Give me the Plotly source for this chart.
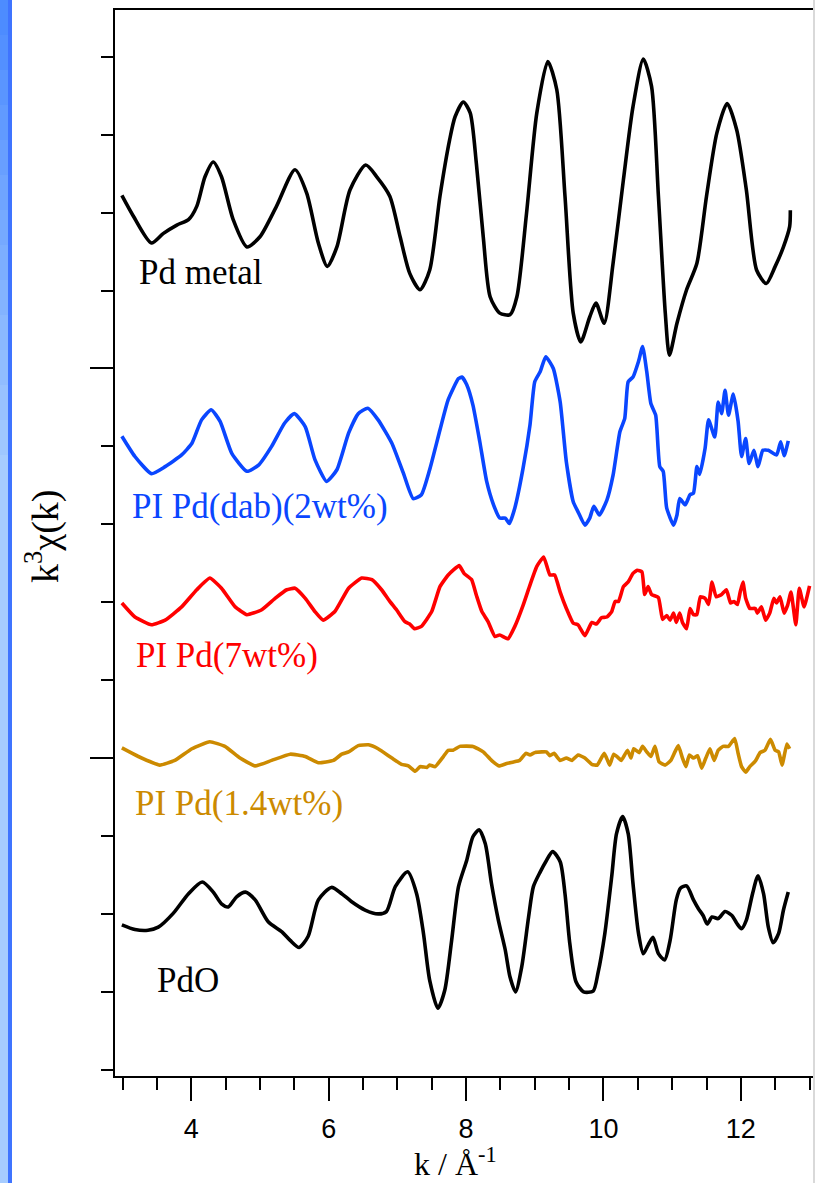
import plotly.graph_objects as go

# ---------------- data (k in 1/Angstrom, stacked k^3 chi(k) in plot units) ----------------
k_pd = [2.99,3.16,3.42,3.59,3.79,3.96,4.08,4.20,4.32,4.44,4.61,4.81,5.00,5.24,5.51,5.68,5.85,5.98,6.12,6.31,
        6.54,6.70,6.89,7.04,7.18,7.33,7.47,7.62,7.76,7.84,7.96,8.06,8.15,8.25,8.35,8.49,8.64,8.74,8.88,9.03,
        9.19,9.32,9.44,9.56,9.67,9.80,9.89,10.01,10.14,10.29,10.43,10.58,10.70,10.80,10.90,10.96,11.07,11.21,11.36,11.50,
        11.65,11.80,11.94,12.08,12.23,12.37,12.50,12.62,12.71,12.72]
y_pd = [7.22,6.95,6.61,6.73,6.84,6.91,7.08,7.46,7.65,7.46,6.91,6.56,6.69,7.08,7.55,7.25,6.61,6.31,6.56,7.29,
        7.61,7.46,7.21,6.69,6.22,6.01,6.26,7.21,7.93,8.23,8.42,8.28,7.63,6.69,5.92,5.71,5.69,5.92,6.99,8.28,
        8.94,8.58,7.21,5.71,5.34,5.66,5.84,5.58,6.35,7.42,8.36,8.97,8.62,7.21,5.71,5.17,5.58,6.01,6.35,7.21,
        8.02,8.40,8.06,7.29,6.26,6.09,6.31,6.56,6.82,7.03]

k_dab = [2.99,3.18,3.42,3.62,3.86,4.01,4.15,4.29,4.42,4.59,4.81,4.98,5.17,5.36,5.50,5.66,5.80,5.97,6.12,
         6.29,6.43,6.57,6.72,6.92,7.09,7.23,7.35,7.47,7.62,7.74,7.89,7.94,8.01,8.10,8.20,8.30,8.40,8.49,8.57,
         8.63,8.71,8.83,8.93,9.00,9.08,9.16,9.27,9.37,9.46,9.56,9.63,9.73,9.80,9.86,9.94,10.05,10.14,10.24,10.31,
         10.36,10.43,10.51,10.57,10.63,10.69,10.76,10.82,10.87,10.92,11.02,11.07,11.11,11.19,11.26,11.31,11.36,11.40,11.48,11.53,
         11.62,11.67,11.72,11.77,11.82,11.89,11.96,12.01,12.07,12.12,12.19,12.25,12.32,12.40,12.52,12.58,12.63,12.69]
y_dab = [4.13,3.87,3.65,3.74,3.89,4.04,4.34,4.47,4.32,3.91,3.68,3.76,4.00,4.30,4.42,4.25,3.83,3.55,3.70,
         4.17,4.42,4.49,4.34,4.04,3.65,3.33,3.38,3.70,4.21,4.60,4.87,4.89,4.79,4.53,4.06,3.55,3.25,3.08,3.08,
         3.01,3.21,3.72,4.27,4.83,4.96,5.15,5.00,4.57,3.80,3.29,3.16,2.99,3.08,3.23,3.12,3.31,3.63,4.19,4.36,
         4.83,4.89,5.09,5.28,4.96,4.55,4.40,3.74,3.68,3.21,2.99,3.12,3.33,3.25,3.38,3.40,3.74,3.64,3.98,4.34,
         4.12,4.57,4.42,4.72,4.40,4.67,4.32,3.87,4.10,3.78,3.95,3.74,3.95,3.95,3.89,4.06,3.88,4.07]

k_7 = [2.99,3.18,3.42,3.62,3.86,4.08,4.27,4.44,4.64,4.81,5.02,5.22,5.39,5.51,5.66,5.80,5.92,6.09,6.29,6.48,
       6.63,6.77,6.89,6.99,7.11,7.18,7.25,7.35,7.50,7.62,7.74,7.90,7.97,8.08,8.15,8.23,8.32,8.42,8.49,8.61,
       8.71,8.83,8.93,9.03,9.13,9.22,9.29,9.37,9.46,9.56,9.63,9.73,9.83,9.90,9.97,10.05,10.12,10.17,10.22,10.29,
       10.36,10.43,10.49,10.56,10.60,10.65,10.70,10.80,10.86,10.92,10.97,11.02,11.06,11.11,11.15,11.21,11.26,11.31,11.36,11.41,
       11.48,11.53,11.58,11.64,11.72,11.79,11.85,11.90,11.95,11.99,12.03,12.07,12.13,12.21,12.24,12.30,12.36,12.42,12.48,12.52,
       12.57,12.63,12.68,12.73,12.80,12.85,12.92,13.00]
y_7 = [1.99,1.81,1.71,1.77,1.94,2.16,2.31,2.18,1.94,1.84,1.90,2.05,2.16,2.18,2.05,1.88,1.77,1.88,2.18,2.31,
       2.29,2.16,2.01,1.90,1.75,1.72,1.66,1.69,1.88,2.20,2.35,2.47,2.37,2.29,2.09,1.88,1.75,1.56,1.58,1.53,
       1.69,1.96,2.22,2.46,2.58,2.35,2.35,2.13,1.92,1.73,1.71,1.57,1.74,1.72,1.80,1.81,1.88,2.01,2.01,2.20,
       2.26,2.37,2.41,2.39,2.10,2.20,2.10,2.06,1.78,1.83,1.77,1.86,1.74,1.86,1.74,1.66,1.92,1.84,1.84,2.07,
       2.05,1.97,2.26,2.07,2.10,2.16,1.99,2.01,1.97,2.13,2.26,2.05,1.92,1.92,1.86,1.94,1.77,1.86,2.05,1.99,
       2.07,1.86,1.96,2.13,1.71,2.18,1.94,2.21]

k_14 = [2.99,3.23,3.54,3.76,4.01,4.27,4.49,4.71,4.93,5.17,5.44,5.66,5.85,6.07,6.19,6.29,6.43,6.58,6.72,6.92,
        7.06,7.16,7.26,7.33,7.43,7.47,7.55,7.67,7.74,7.81,7.91,8.10,8.25,8.37,8.48,8.59,8.69,8.78,8.87,8.93,
        9.00,9.10,9.17,9.22,9.28,9.37,9.46,9.54,9.63,9.73,9.83,9.91,10.01,10.06,10.09,10.15,10.22,10.26,10.35,10.40,
        10.44,10.52,10.57,10.63,10.69,10.75,10.81,10.90,10.98,11.04,11.09,11.15,11.20,11.25,11.31,11.37,11.43,11.49,11.55,11.61,
        11.67,11.74,11.82,11.91,11.96,12.01,12.07,12.13,12.21,12.28,12.35,12.43,12.50,12.55,12.60,12.67,12.71]
y_14 = [0.13,0.02,-0.09,-0.03,0.12,0.21,0.15,0.00,-0.10,-0.03,0.05,0.02,-0.06,-0.03,0.05,0.08,0.16,0.17,0.12,0.00,
        -0.08,-0.10,-0.17,-0.11,-0.12,-0.09,-0.11,0.02,0.10,0.10,0.15,0.15,0.08,-0.03,-0.10,-0.07,-0.05,-0.03,0.06,0.04,
        0.07,0.08,0.08,0.03,0.06,-0.03,0.00,-0.03,0.04,0.00,-0.08,-0.09,0.06,-0.03,-0.09,0.05,0.00,-0.03,0.10,0.00,
        0.12,0.07,0.15,0.08,0.02,0.15,-0.05,-0.09,-0.03,0.08,0.16,0.00,-0.11,0.04,0.00,0.03,-0.13,0.00,0.12,-0.03,
        0.10,0.15,0.15,0.25,0.06,-0.11,-0.18,-0.11,-0.04,0.07,0.10,0.24,0.10,0.08,-0.09,0.18,0.12]

k_pdo = [2.99,3.18,3.37,3.52,3.74,3.96,4.16,4.32,4.44,4.54,4.66,4.79,4.93,5.12,5.32,5.44,5.57,5.70,5.85,6.04,
         6.19,6.33,6.53,6.72,6.84,6.97,7.15,7.28,7.38,7.47,7.59,7.69,7.79,7.89,8.01,8.10,8.19,8.28,8.37,8.47,
         8.57,8.64,8.72,8.81,8.91,8.98,9.08,9.16,9.26,9.37,9.44,9.51,9.60,9.71,9.85,9.92,10.02,10.12,10.19,10.28,
         10.36,10.43,10.51,10.58,10.65,10.72,10.80,10.89,10.97,11.06,11.12,11.21,11.31,11.38,11.45,11.51,11.58,11.67,11.77,11.87,
         11.94,12.01,12.08,12.17,12.25,12.33,12.40,12.47,12.55,12.62,12.69]
y_pdo = [-2.14,-2.20,-2.21,-2.17,-1.99,-1.74,-1.59,-1.72,-1.87,-1.91,-1.78,-1.72,-1.82,-2.10,-2.23,-2.34,-2.43,-2.29,-1.82,-1.66,
         -1.74,-1.84,-1.95,-2.00,-1.97,-1.65,-1.46,-1.74,-2.25,-2.85,-3.21,-2.98,-2.34,-1.65,-1.31,-1.01,-0.92,-1.10,-1.61,-2.08,
         -2.46,-2.81,-3.00,-2.68,-2.04,-1.65,-1.46,-1.33,-1.20,-1.33,-1.74,-2.38,-2.87,-3.00,-2.99,-2.76,-2.25,-1.52,-0.97,-0.75,
         -0.97,-1.61,-2.25,-2.51,-2.40,-2.30,-2.51,-2.59,-2.34,-1.82,-1.67,-1.64,-1.82,-1.93,-2.02,-2.13,-2.04,-2.06,-1.97,-2.02,
         -2.12,-2.19,-2.08,-1.74,-1.51,-1.74,-2.17,-2.37,-2.25,-1.95,-1.72]

names = ["Pd metal", "PI Pd(dab)(2wt%)", "PI Pd(7wt%)", "PI Pd(1.4wt%)", "PdO"]
colors = ["#000000", "#0a46ff", "#ff0000", "#cc8a00", "#000000"]
label_k = [3.21, 3.11, 3.16, 3.15, 3.47]
label_y = [6.23, 3.23, 1.32, -0.58, -2.85]
x_ticks = [4, 6, 8, 10, 12]
x_range = [2.89, 13.05]
y_range = [-4.08, 9.60]

series = [(k_pd, y_pd, 0.7), (k_dab, y_dab, 0.5), (k_7, y_7, 0.4), (k_14, y_14, 0.4), (k_pdo, y_pdo, 0.7)]

# ---------------- figure ----------------
W, H = 815, 1183
ML, MR, MT, MB = 115, 2, 10, 107
pw, ph = W - ML - MR, H - MT - MB

fig = go.Figure()
for (kx, ky, sm), nm, c in zip(series, names, colors):
    fig.add_trace(go.Scatter(x=kx, y=ky, mode="lines", name=nm,
                             line=dict(color=c, width=3.6, shape="spline", smoothing=sm),
                             showlegend=False, hoverinfo="skip"))

serif = "Liberation Serif, Times New Roman, serif"
for nm, c, lk, ly in zip(names, colors, label_k, label_y):
    fig.add_annotation(x=lk, y=ly, xref="x", yref="y", text=nm, showarrow=False,
                       xanchor="left", yanchor="middle",
                       font=dict(family=serif, size=35, color=c))

def px_x(p):
    return (p - ML) / pw

def px_y(p):
    return (H - MB - p) / ph

# axis titles
fig.add_annotation(x=px_x(42), y=px_y(537), xref="paper", yref="paper",
                   text="k<sup>3</sup>χ(k)", textangle=-90, showarrow=False,
                   xanchor="center", yanchor="middle",
                   font=dict(family=serif, size=38, color="black"))
fig.add_annotation(x=px_x(455), y=px_y(1162), xref="paper", yref="paper",
                   text="k / Å<sup>-1</sup>", showarrow=False,
                   xanchor="center", yanchor="middle",
                   font=dict(family=serif, size=32, color="black"))

# decorative left window bar and right edge
shapes = []
n = 14
for i in range(n):
    t = i / (n - 1)
    r = int(0x4d + (0xa6 - 0x4d) * t)
    g = int(0x8c + (0xcc - 0x8c) * t)
    y0p = i * 35
    y1p = (i + 1) * 35 if i < n - 1 else H
    shapes.append(dict(type="rect", xref="paper", yref="paper",
                       x0=px_x(0), x1=px_x(8), y0=px_y(y1p), y1=px_y(y0p),
                       fillcolor=f"rgb({r},{g},255)", line=dict(width=0), layer="below"))
shapes.append(dict(type="rect", xref="paper", yref="paper",
                   x0=px_x(8), x1=px_x(12), y0=px_y(H), y1=px_y(0),
                   fillcolor="#3f74ff", line=dict(width=0), layer="below"))
shapes.append(dict(type="line", xref="paper", yref="paper",
                   x0=px_x(814), x1=px_x(814), y0=px_y(H), y1=px_y(0),
                   line=dict(color="#cccccc", width=1.5)))
fig.update_layout(shapes=shapes)

fig.update_layout(
    width=W, height=H,
    margin=dict(l=ML, r=MR, t=MT, b=MB, pad=0),
    paper_bgcolor="white", plot_bgcolor="white",
    xaxis=dict(range=x_range, showgrid=False, zeroline=False,
               showline=True, linecolor="black", linewidth=2, mirror=True,
               ticks="outside", ticklen=23, tickwidth=2, tickcolor="black",
               tickmode="array", tickvals=x_ticks, ticktext=[str(v) for v in x_ticks],
               ticklabelstandoff=5,
               tickfont=dict(family="Liberation Sans, Arial, sans-serif", size=27, color="black"),
               minor=dict(ticks="outside", ticklen=12, tickwidth=2, tickcolor="black",
                          tick0=0, dtick=0.5, showgrid=False)),
    yaxis=dict(range=y_range, showgrid=False, zeroline=False,
               showline=True, linecolor="black", linewidth=2,
               ticks="outside", ticklen=23, tickwidth=2, tickcolor="black",
               tick0=0, dtick=5, showticklabels=False,
               minor=dict(ticks="outside", ticklen=12, tickwidth=2, tickcolor="black",
                          tick0=0, dtick=1, showgrid=False)),
)

fig.write_html("out.html", config={"displayModeBar": False},
               post_script="document.body.style.margin='0px';document.body.style.overflow='hidden';")
